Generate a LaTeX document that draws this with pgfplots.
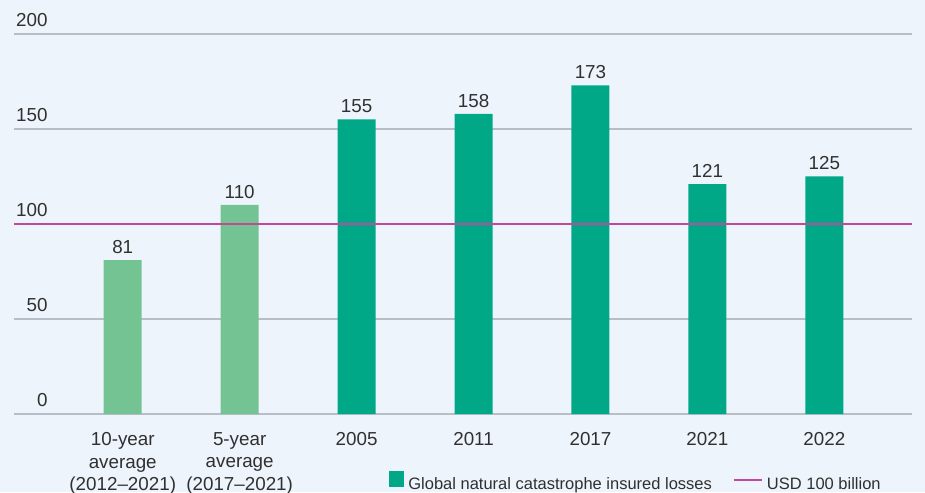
\documentclass[border=0pt]{standalone}
\usepackage{pgfplots}
\pgfplotsset{compat=1.18}
\usepackage{fontspec}
\setmainfont{Liberation Sans}
\definecolor{bg}{HTML}{EEF4FC}
\definecolor{natcat}{HTML}{00A887}
\definecolor{avg}{HTML}{74C493}
\definecolor{usd}{HTML}{C2489C}
\definecolor{gridc}{HTML}{B9BDC5}
\definecolor{txt}{HTML}{303030}
\begin{document}
\begin{tikzpicture}[font=\fontsize{9.4}{11.25}\selectfont]
\fill[bg] (-7pt,-39pt) rectangle (455.5pt,207pt);
\begin{axis}[
  at={(0,0)}, anchor=south west,
  scale only axis, width=449pt, height=190pt,
  xmin=-0.93, xmax=6.75, ymin=0, ymax=200,
  ytick={0,50,100,150,200},
  xtick={0,...,6},
  xticklabels={{10-year\\average\\(2012--2021)},{5-year\\average\\(2017--2021)},2005,2011,2017,2021,2022},
  xticklabel style={align=center, anchor=north, inner sep=0pt, yshift=-9pt, text=txt},
  yticklabel style={anchor=south east, inner sep=0pt, xshift=17pt, yshift=3.5pt, text=txt},
  major tick length=0pt,
  axis line style={draw=none},
  ymajorgrids, grid style={gridc, line width=0.75pt},
  ybar, bar width=19pt, bar shift=0pt,
  nodes near coords,
  nodes near coords style={text=txt, inner sep=0pt, yshift=3pt},
  /pgf/number format/assume math mode=true,
  clip=false,
  legend style={at={(axis description cs:0.97,0)}, anchor=south east, yshift=-41.5pt,
    draw=none, fill=none, legend columns=2, inner sep=0pt,
    font=\fontsize{8.25}{10}\selectfont, text=txt,
    /tikz/every even column/.append style={column sep=8.5pt}},
  legend cell align=left,
]
\addplot[fill=avg, draw=none, forget plot] coordinates {(0,81) (1,110)};
\addplot[fill=natcat, draw=none,
  legend image code/.code={\fill[natcat] (0pt,-1pt) rectangle (7.5pt,7pt);}]
  coordinates {(2,155) (3,158) (4,173) (5,121) (6,125)};
\addlegendentry{Global natural catastrophe insured losses}
\addplot[sharp plot, usd, line width=1.2pt, nodes near coords=\empty,
  legend image code/.code={\draw[usd, line width=1pt] (0pt,2.8pt) -- (14pt,2.8pt);}]
  coordinates {(-0.93,100) (6.75,100)};
\addlegendentry{USD 100 billion}
\end{axis}
\pgfresetboundingbox
\path[use as bounding box] (-7pt,-39pt) rectangle (455.5pt,207pt);
\end{tikzpicture}
\end{document}
